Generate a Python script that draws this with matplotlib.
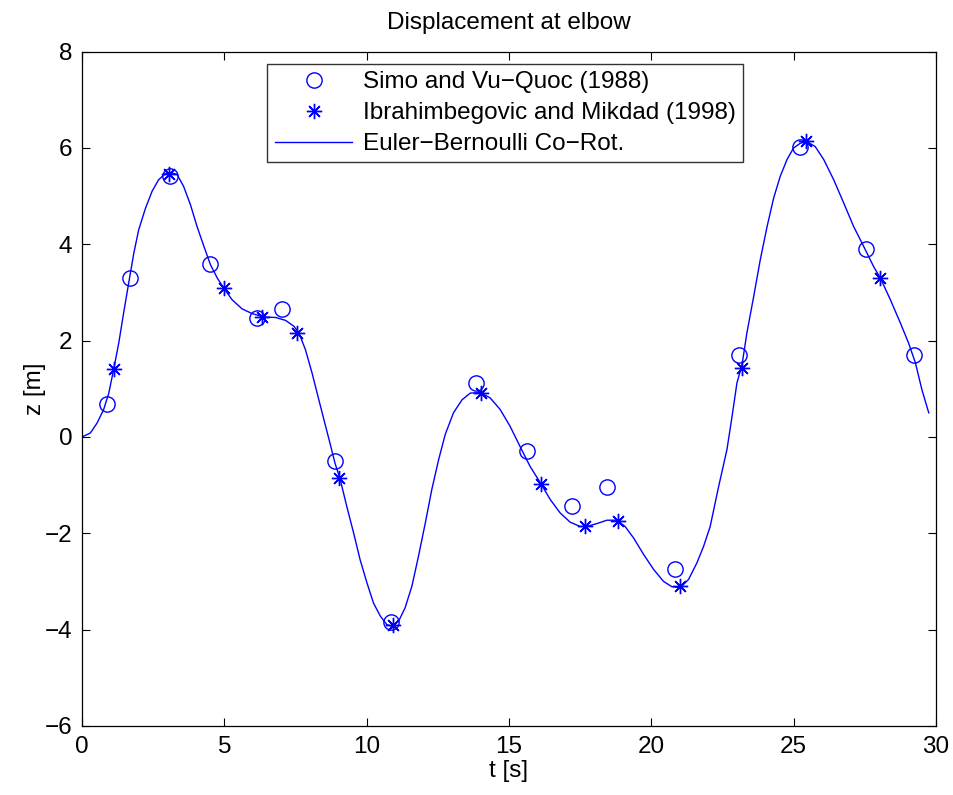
import matplotlib.pyplot as plt

plt.rcParams["font.family"] = ["Liberation Sans", "DejaVu Sans"]

# Simo and Vu-Quoc (1988)
t_simo = [0.87, 1.69, 3.09, 4.50, 6.14, 7.02, 8.89, 10.85, 13.85, 15.63,
          17.21, 18.44, 20.84, 23.07, 25.21, 27.55, 29.22]
z_simo = [0.69, 3.29, 5.42, 3.59, 2.47, 2.66, -0.49, -3.85, 1.12, -0.30,
          -1.44, -1.05, -2.75, 1.71, 6.02, 3.91, 1.71]

# Ibrahimbegovic and Mikdad (1998)
t_ibra = [1.12, 3.07, 4.99, 6.32, 7.57, 9.04, 10.91, 14.01, 16.12, 17.68,
          18.83, 21.02, 23.19, 25.45, 28.05]
z_ibra = [1.41, 5.45, 3.09, 2.49, 2.16, -0.85, -3.91, 0.91, -0.97, -1.84,
          -1.75, -3.10, 1.43, 6.14, 3.30]

# Euler-Bernoulli Co-Rot.
t_eb = [0.0, 0.29, 0.53, 0.76, 0.94, 1.11, 1.29, 1.46, 1.64, 1.82, 1.99,
        2.23, 2.46, 2.69, 2.93, 3.10, 3.34, 3.57, 3.81, 4.04, 4.28, 4.51,
        4.75, 4.98, 5.27, 5.62, 5.98, 6.39, 6.80, 7.15, 7.44, 7.62, 7.85,
        8.08, 8.32, 8.55, 8.72, 8.89, 9.07, 9.30, 9.54, 9.77, 10.01, 10.24,
        10.48, 10.71, 10.89, 11.12, 11.35, 11.59, 11.82, 12.06, 12.29, 12.53,
        12.76, 13.05, 13.35, 13.64, 13.99, 14.34, 14.69, 15.04, 15.39, 15.74,
        16.10, 16.45, 16.80, 17.15, 17.50, 17.73, 18.09, 18.44, 18.79, 19.08,
        19.38, 19.73, 20.08, 20.43, 20.72, 21.02, 21.31, 21.60, 21.84, 22.07,
        22.36, 22.66, 22.84, 23.01, 23.19, 23.36, 23.60, 23.83, 24.07, 24.30,
        24.53, 24.77, 25.00, 25.24, 25.47, 25.76, 26.06, 26.41, 26.76, 27.11,
        27.46, 27.81, 28.05, 28.40, 28.75, 29.04, 29.28, 29.51, 29.75]
z_eb = [0.0, 0.08, 0.29, 0.57, 0.91, 1.40, 1.95, 2.57, 3.20, 3.82, 4.30,
        4.75, 5.10, 5.34, 5.47, 5.49, 5.45, 5.20, 4.82, 4.37, 3.96, 3.58,
        3.30, 3.09, 2.85, 2.66, 2.56, 2.49, 2.48, 2.42, 2.30, 2.16, 1.81,
        1.33, 0.77, 0.24, -0.15, -0.55, -0.88, -1.44, -1.99, -2.55, -3.03, -3.45,
        -3.72, -3.90, -3.93, -3.83, -3.55, -3.10, -2.48, -1.79, -1.09, -0.47,
        0.05, 0.50, 0.77, 0.91, 0.92, 0.81, 0.57, 0.22, -0.20, -0.61,
        -0.95, -1.30, -1.58, -1.77, -1.86, -1.86, -1.80, -1.73, -1.73, -1.86,
        -2.10, -2.44, -2.75, -3.00, -3.11, -3.13, -2.96, -2.62, -2.27, -1.86,
        -1.05, -0.26, 0.43, 1.12, 1.50, 2.16, 2.92, 3.68, 4.37, 4.96,
        5.41, 5.76, 6.00, 6.10, 6.13, 6.03, 5.76, 5.34, 4.86, 4.37,
        3.96, 3.54, 3.30, 2.85, 2.37, 1.95, 1.54, 0.98, 0.50]

fs = 17.5

fig = plt.figure(figsize=(9.54, 7.95), dpi=100)
ax = fig.add_axes([0.086, 0.087, 0.895, 0.848])

ax.plot(t_simo, z_simo, linestyle="none", marker="o", markersize=11,
        markerfacecolor="none", markeredgecolor="blue", markeredgewidth=1.0,
        label="Simo and Vu\u2212Quoc (1988)")
ax.plot(t_ibra, z_ibra, linestyle="none", marker=(8, 2, 0), markersize=11,
        color="blue", markeredgewidth=1.0,
        label="Ibrahimbegovic and Mikdad (1998)")
ax.plot(t_eb, z_eb, color="blue", linewidth=1.0,
        label="Euler\u2212Bernoulli Co\u2212Rot.")

ax.set_xlim(0, 30)
ax.set_ylim(-6, 8)
ax.set_xticks(range(0, 31, 5))
ax.set_yticks(range(-6, 9, 2))
ax.tick_params(direction="in", length=6, width=0.8, top=True, right=True,
               labelsize=fs, pad=7)
for s in ax.spines.values():
    s.set_linewidth(0.9)

ax.set_title("Displacement at elbow", fontsize=fs, pad=16)
ax.set_xlabel("t [s]", fontsize=fs, labelpad=2)
ax.set_ylabel("z [m]", fontsize=fs, labelpad=-1)

leg = ax.legend(loc="upper left", bbox_to_anchor=(0.217, 0.982), fontsize=fs,
                frameon=True, fancybox=False, edgecolor="black",
                handlelength=3.2, borderpad=0.3, labelspacing=0.37,
                handletextpad=0.45, borderaxespad=0)
leg.get_frame().set_linewidth(1.0)

fig.savefig("out.png", dpi=100)
